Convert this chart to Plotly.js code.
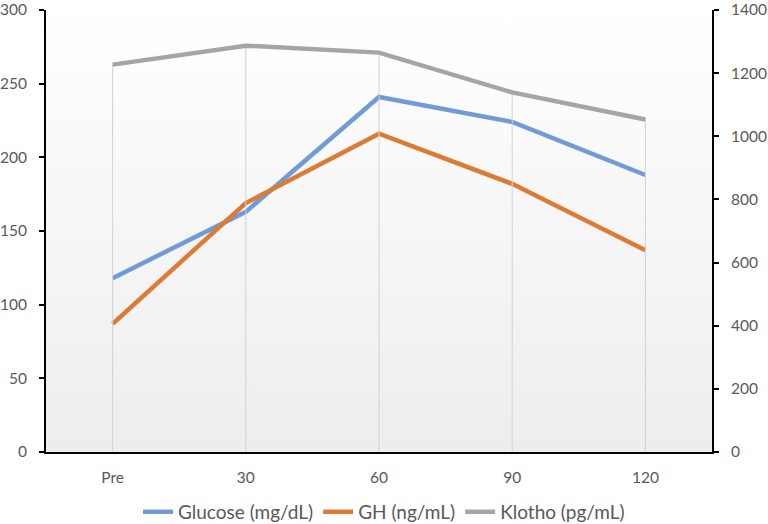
<!DOCTYPE html>
<html>
<head>
<meta charset="utf-8">
<script src="https://cdn.plot.ly/plotly-3.0.1.min.js"></script>
<style>
  html, body { margin: 0; padding: 0; background: #fff; }
  #grafico { width: 768px; height: 524px; }
</style>
</head>
<body>
<div id="grafico"></div>
<script>
// Dados
const tempos = ['Pre', '30', '60', '90', '120'];
const glicose = [118, 163, 241, 224, 188];
const gh = [87, 169, 216, 182, 137];
const klotho = [1227, 1287, 1265, 1139, 1053];

const leftTicks = [0, 50, 100, 150, 200, 250, 300];
const rightTicks = [0, 200, 400, 600, 800, 1000, 1200, 1400];

// Fundo em degradê da área do gráfico
const gradSvg = '<svg xmlns="http://www.w3.org/2000/svg" width="10" height="100" preserveAspectRatio="none">' +
    '<defs><linearGradient id="g" x1="0" y1="0" x2="0" y2="1">' +
    '<stop offset="0" stop-color="#ffffff"/><stop offset="1" stop-color="#ededed"/>' +
    '</linearGradient></defs><rect width="10" height="100" fill="url(#g)"/></svg>';
const gradUri = 'data:image/svg+xml;base64,' + btoa(gradSvg);

// Linhas de queda (do eixo até a série mais alta, estilo Excel)
const dropX = [];
const dropY = [];
tempos.forEach((t, i) => {
    dropX.push(t, t, null);
    dropY.push(0, klotho[i], null);
});

const traceDrop = {
    x: dropX,
    y: dropY,
    type: 'scatter',
    mode: 'lines',
    yaxis: 'y2',
    showlegend: false,
    hoverinfo: 'skip',
    line: { color: '#d2d2d2', width: 1 }
};

const traceGlicose = {
    x: tempos,
    y: glicose,
    type: 'scatter',
    mode: 'lines',
    name: 'Glucose (mg/dL)',
    line: { color: '#6f9bd6', width: 4.5 }
};

const traceGH = {
    x: tempos,
    y: gh,
    type: 'scatter',
    mode: 'lines',
    name: 'GH (ng/mL)',
    line: { color: '#dd7b35', width: 4.5 }
};

const traceKlotho = {
    x: tempos,
    y: klotho,
    type: 'scatter',
    mode: 'lines',
    name: 'Klotho (pg/mL)',
    yaxis: 'y2',
    line: { color: '#a5a5a5', width: 4.5 }
};

const fonte = { family: 'Lato, "Open Sans", sans-serif', size: 15.5, color: '#595959' };
const fonteLegenda = { family: 'Lato, "Open Sans", sans-serif', size: 19, color: '#595959' };

const layout = {
    width: 768,
    height: 524,
    margin: { l: 46, r: 56, t: 10, b: 72 },
    paper_bgcolor: '#ffffff',
    plot_bgcolor: 'rgba(0,0,0,0)',
    font: fonte,
    showlegend: true,
    legend: {
        orientation: 'h',
        x: 0.5,
        xanchor: 'center',
        xref: 'container',
        y: 0.023,
        yanchor: 'middle',
        yref: 'container',
        font: fonteLegenda,
        traceorder: 'normal'
    },
    images: [{
        source: gradUri,
        xref: 'paper',
        yref: 'paper',
        x: 0,
        y: 1,
        sizex: 1,
        sizey: 1,
        sizing: 'stretch',
        layer: 'below'
    }],
    xaxis: {
        type: 'category',
        range: [-0.5, 4.5],
        showgrid: false,
        showline: true,
        linecolor: '#000000',
        linewidth: 2,
        ticks: '',
        tickfont: fonte,
        ticklabelstandoff: 10,
        zeroline: false
    },
    yaxis: {
        range: [0, 300],
        tickvals: leftTicks,
        showgrid: false,
        zeroline: false,
        showline: true,
        linecolor: '#000000',
        linewidth: 2,
        ticks: 'outside',
        ticklen: 5,
        tickwidth: 2,
        tickcolor: '#000000',
        tickfont: fonte,
        ticklabelstandoff: 9,
        ticklabeloverflow: 'allow'
    },
    yaxis2: {
        range: [0, 1400],
        tickvals: rightTicks,
        overlaying: 'y',
        side: 'right',
        showgrid: false,
        zeroline: false,
        showline: true,
        linecolor: '#000000',
        linewidth: 2,
        ticks: 'outside',
        ticklen: 5,
        tickwidth: 2,
        tickcolor: '#000000',
        tickfont: fonte,
        ticklabelstandoff: 9,
        ticklabeloverflow: 'allow'
    }
};

Plotly.newPlot('grafico', [traceDrop, traceGlicose, traceGH, traceKlotho], layout, { displayModeBar: false, staticPlot: true });
</script>
</body>
</html>
